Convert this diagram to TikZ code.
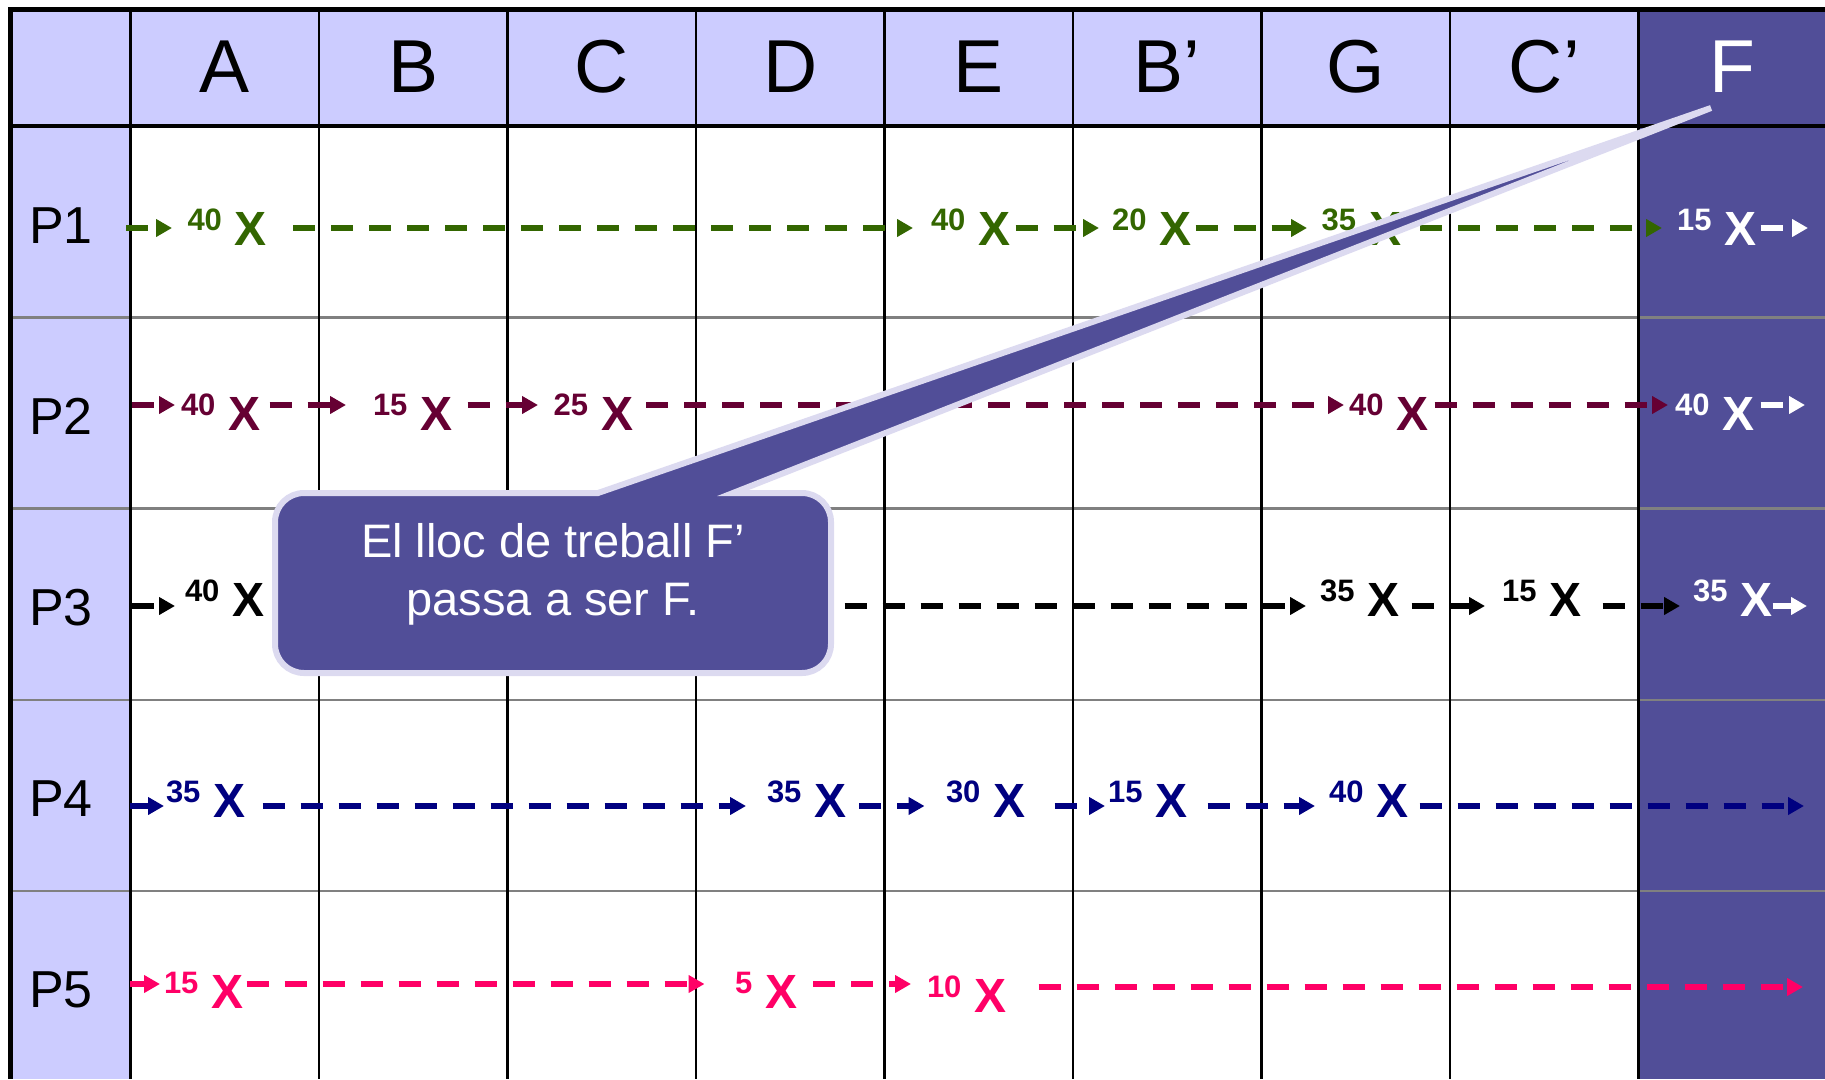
\documentclass[tikz,border=0pt]{standalone}
\usepackage{fontspec}
\setmainfont{Liberation Sans}
\usetikzlibrary{arrows.meta}
\definecolor{hdr}{HTML}{CCCCFF}
\definecolor{fcol}{RGB}{81,78,152}
\definecolor{cborder}{RGB}{220,218,240}
\definecolor{cgreen}{HTML}{336600}
\definecolor{cmaroon}{HTML}{660033}
\definecolor{cnavy}{HTML}{000080}
\definecolor{cpink}{HTML}{FF0066}
\definecolor{rowgrey}{HTML}{808080}
\newcommand\stlab[1]{\raisebox{15pt}{\fontsize{31}{31}\selectfont\bfseries #1}\hspace{13pt}{\fontsize{48}{48}\selectfont\bfseries X}}
\begin{document}
\begin{tikzpicture}[x=1pt, y=-1pt,
  stn/.style={inner sep=0pt, outer sep=0pt, anchor=base west},
  flowln/.style={line width=6pt, dash pattern=on 22pt off 16pt, -{Triangle[length=16pt,width=17pt]}},
  hdrtxt/.style={font=\fontsize{75}{75}\selectfont, anchor=base, inner sep=0pt},
  rowtxt/.style={font=\fontsize{52}{52}\selectfont, anchor=base, inner sep=0pt},
  ctext/.style={font=\fontsize{47}{47}\selectfont, text=white, anchor=base, inner sep=0pt},
  gridv/.style={line width=2.5pt, black},
  gridh/.style={line width=2.5pt, rowgrey}]
\useasboundingbox (0,0) rectangle (1825,1079);
% fills
\fill[hdr] (11,9.5) rectangle (1638.5,126);
\fill[hdr] (11,126) rectangle (130.5,1079);
\fill[fcol] (1638.5,9.5) rectangle (1825,1079);
% grid
\foreach \k in {1,...,4} \draw[gridh] (11,{126+191.3*\k}) -- (1825,{126+191.3*\k});
\foreach \i in {0,...,8} \draw[gridv] ({130.5+188.5*\i},9.5) -- ({130.5+188.5*\i},1079);
\draw[line width=3.5pt] (11,126) -- (1825,126);
\draw[line width=5.5pt] (8,9.5) -- (1825,9.5);
\draw[line width=5.5pt] (10.5,7) -- (10.5,1079);
% header
\foreach \t [count=\i from 0] in {A,B,C,D,E,B’,G,C’}
  \node[hdrtxt] (h\i) at ({224.75+188.5*\i},92) {\t};
\node[hdrtxt, text=white] (h8) at (1732.75,92) {F};
% row labels
\foreach \k in {1,...,5}
  \node[rowtxt] (rl\k) at (61,{243+191*(\k-1)}) {P\k};
% row line coordinates
\coordinate (r1) at (0,228);
\coordinate (r2) at (0,405);
\coordinate (r3) at (0,606);
\coordinate (r4) at (0,806);
\coordinate (r5) at (0,984);
\coordinate (r5t) at (0,987);
\coordinate (p1s) at (126,228);   \coordinate (p1t) at (1808,228);
\coordinate (p2s) at (131.7,405); \coordinate (p2t) at (1805,405);
\coordinate (p3s) at (131.7,606); \coordinate (p3t) at (1807,606);
\coordinate (p4s) at (129.5,806); \coordinate (p4t) at (1804,806);
\coordinate (p5s) at (130,984);   \coordinate (p5t) at (1803,987);
% P1
\node[stn, text=cgreen] (p1a) at (187.5,245) {\stlab{40}};
\node[stn, text=cgreen] (p1e) at (931,245) {\stlab{40}};
\node[stn, text=cgreen] (p1bp) at (1112,245) {\stlab{20}};
\node[stn, text=cgreen] (p1g) at (1321.7,245) {\stlab{35}};
\node[stn, text=white] (p1f) at (1677,245) {\stlab{15}};
\draw[flowln, cgreen, shorten >=15.5pt] (p1s) -- (p1a.west |- r1);
\draw[flowln, cgreen, shorten <=26pt, shorten >=18pt] (p1a.east |- r1) -- (p1e.west |- r1);
\draw[flowln, cgreen, shorten <=5pt, shorten >=13pt] (p1e.east |- r1) -- (p1bp.west |- r1);
\draw[flowln, cgreen, shorten <=4pt, shorten >=14.7pt] (p1bp.east |- r1) -- (p1g.west |- r1);
\draw[flowln, cgreen, shorten <=19pt, shorten >=15pt] (p1g.east |- r1) -- (p1f.west |- r1);
\draw[flowln, white, shorten <=4pt] (p1f.east |- r1) -- (p1t);
% P2
\node[stn, text=cmaroon] (p2a) at (181,430) {\stlab{40}};
\node[stn, text=cmaroon] (p2b) at (373,430) {\stlab{15}};
\node[stn, text=cmaroon] (p2c) at (553.6,430) {\stlab{25}};
\node[stn, text=cmaroon] (p2g) at (1349,430) {\stlab{40}};
\node[stn, text=white] (p2f) at (1675,430) {\stlab{40}};
\draw[flowln, cmaroon, shorten >=6pt] (p2s) -- (p2a.west |- r2);
\draw[flowln, cmaroon, shorten <=9pt, shorten >=27pt] (p2a.east |- r2) -- (p2b.west |- r2);
\draw[flowln, cmaroon, shorten <=15pt, shorten >=15.6pt] (p2b.east |- r2) -- (p2c.west |- r2);
\draw[flowln, cmaroon, shorten <=13pt, shorten >=5pt] (p2c.east |- r2) -- (p2g.west |- r2);
\draw[flowln, cmaroon, shorten <=6pt, shorten >=7pt] (p2g.east |- r2) -- (p2f.west |- r2);
\draw[flowln, white, shorten <=6pt] (p2f.east |- r2) -- (p2t);
% P3
\node[stn, text=black] (p3a) at (185,616) {\stlab{40}};
\node[stn, text=black] (p3g) at (1320,616) {\stlab{35}};
\node[stn, text=black] (p3cp) at (1502,616) {\stlab{15}};
\node[stn, text=white] (p3f) at (1693,616) {\stlab{35}};
\draw[flowln, black, shorten >=10pt] (p3s) -- (p3a.west |- r3);
\draw[flowln, black, shorten <=10pt, shorten >=14pt] (p3a.east |- r3) -- (p3g.west |- r3);
\draw[flowln, black, shorten <=12pt, shorten >=17pt] (p3g.east |- r3) -- (p3cp.west |- r3);
\draw[flowln, black, shorten <=21pt, shorten >=13pt] (p3cp.east |- r3) -- (p3f.west |- r3);
\draw[flowln, white] (p3f.east |- r3) -- (p3t);
% P4
\node[stn, text=cnavy] (p4a) at (166,817) {\stlab{35}};
\node[stn, text=cnavy] (p4d) at (767,817) {\stlab{35}};
\node[stn, text=cnavy] (p4e) at (946,817) {\stlab{30}};
\node[stn, text=cnavy] (p4bp) at (1108,817) {\stlab{15}};
\node[stn, text=cnavy] (p4g) at (1329,817) {\stlab{40}};
\draw[flowln, cnavy, shorten >=2pt] (p4s) -- (p4a.west |- r4);
\draw[flowln, cnavy, shorten <=17pt, shorten >=21pt] (p4a.east |- r4) -- (p4d.west |- r4);
\draw[flowln, cnavy, shorten <=12.5pt, shorten >=21.5pt] (p4d.east |- r4) -- (p4e.west |- r4);
\draw[flowln, cnavy, shorten <=29pt, shorten >=3pt] (p4e.east |- r4) -- (p4bp.west |- r4);
\draw[flowln, cnavy, shorten <=20pt, shorten >=14pt] (p4bp.east |- r4) -- (p4g.west |- r4);
\draw[flowln, cnavy, shorten <=11pt] (p4g.east |- r4) -- (p4t);
% P5
\node[stn, text=cpink] (p5a) at (164,1008) {\stlab{15}};
\node[stn, text=cpink] (p5d) at (735,1008) {\stlab{5}};
\node[stn, text=cpink] (p5e) at (927,1012) {\stlab{10}};
\draw[flowln, cpink, shorten >=4pt] (p5s) -- (p5a.west |- r5);
\draw[flowln, cpink, shorten <=3pt, shorten >=30.5pt] (p5a.east |- r5) -- (p5d.west |- r5);
\draw[flowln, cpink, shorten <=16pt, shorten >=16pt] (p5d.east |- r5) -- (p5e.west |- r5);
\draw[flowln, cpink, shorten <=32pt] (p5e.east |- r5t) -- (p5t);
% callout
\path[fill=fcol, draw=cborder, line width=6pt]
  (598,493) -- (1711,108) -- (733,493) -- (760,493) [rounded corners=29pt]
  -- (831,493) -- (831,673) -- (275,673) -- (275,493) -- (560,493) [sharp corners] -- cycle;
\node[ctext] (ct1) at (553,557) {El lloc de treball F’};
\node[ctext] (ct2) at (553,615) {passa a ser F.};
\end{tikzpicture}
\end{document}
